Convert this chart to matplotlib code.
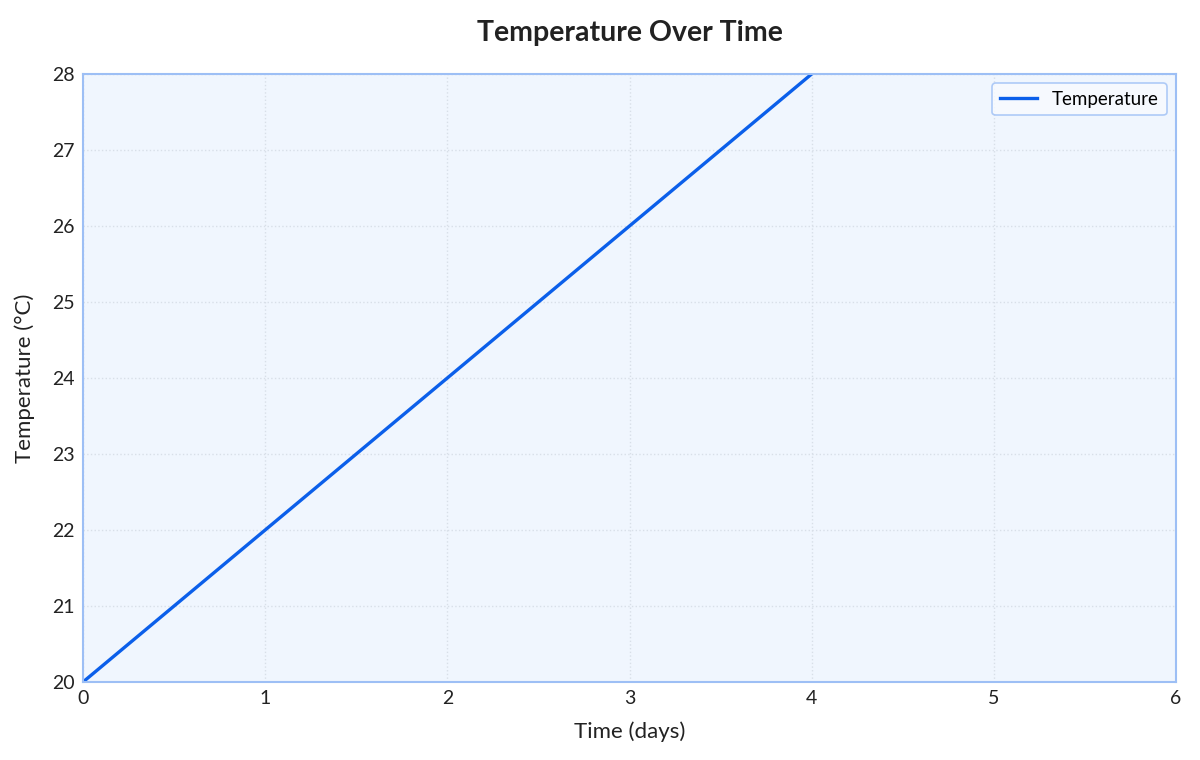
import matplotlib
matplotlib.use("Agg")
import matplotlib.pyplot as plt

days = [0, 1, 2, 3, 4]
temperature = [20, 22, 24, 26, 28]
x_ticks = [0, 1, 2, 3, 4, 5, 6]
y_ticks = [20, 21, 22, 23, 24, 25, 26, 27, 28]

plt.rcParams['font.family'] = ['Lato', 'DejaVu Sans']

fig = plt.figure(figsize=(12, 7.6), dpi=100)
ax = fig.add_axes([83/1200, 1 - 682/760, (1176 - 83)/1200, (682 - 74)/760])
ax.set_facecolor('#f0f6fe')
ax.plot(days, temperature, color='#0b5fea', linewidth=2.4, label='Temperature')
ax.set_xlim(0, 6)
ax.set_ylim(20, 28)
ax.set_xticks(x_ticks)
ax.set_yticks(y_ticks)
ax.tick_params(length=0, labelsize=14, colors='#222222', pad=6)
ax.grid(True, linestyle=':', color='#d8dfe8', linewidth=1)
for s in ax.spines.values():
    s.set_color('#9dbff5')
    s.set_linewidth(1.5)
ax.set_xlabel('Time (days)', fontsize=16, color='#222222', labelpad=10)
ax.set_ylabel('Temperature (°C)', fontsize=16, color='#222222', labelpad=12)
ax.set_title('Temperature Over Time', fontsize=20.5, fontweight='bold', color='#222222', pad=24)
leg = ax.legend(loc='upper right', fontsize=13.5, frameon=True, fancybox=True,
                edgecolor='#9dbff5', facecolor='#f8fbff')
leg.get_frame().set_linewidth(1.2)
fig.savefig('out.png', dpi=100)
